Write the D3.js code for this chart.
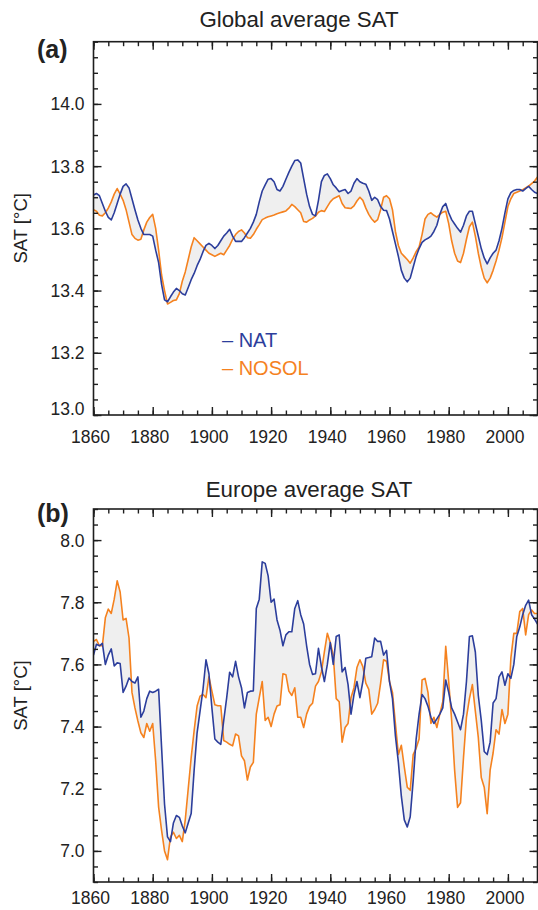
<!DOCTYPE html>
<html><head><meta charset="utf-8">
<script src="https://cdn.jsdelivr.net/npm/d3@7"></script>
<style>
body{margin:0;background:#fff}
svg{display:block}
text{font-family:"Liberation Sans",Arial,Helvetica,sans-serif;fill:#222}
</style>
</head><body>
<svg id="chart" width="538" height="910"></svg>
<script>
const firstYear = 1860, lastYear = 2010;
const years = d3.range(firstYear, lastYear + 1);

const globalNAT = [
13.707,13.712,13.705,13.68,13.655,13.635,13.627,13.65,13.68,13.71,
13.735,13.743,13.73,13.695,13.66,13.627,13.6,13.58,13.58,13.58,
13.575,13.53,13.49,13.42,13.37,13.364,13.38,13.395,13.407,13.4,
13.39,13.386,13.41,13.435,13.455,13.48,13.5,13.525,13.545,13.552,
13.545,13.535,13.545,13.56,13.575,13.585,13.597,13.575,13.558,13.558,
13.558,13.57,13.585,13.6,13.62,13.645,13.685,13.72,13.74,13.758,
13.76,13.75,13.725,13.72,13.735,13.758,13.78,13.8,13.818,13.82,
13.81,13.76,13.71,13.67,13.645,13.64,13.69,13.75,13.77,13.775,
13.76,13.74,13.73,13.718,13.722,13.725,13.712,13.72,13.745,13.76,
13.75,13.745,13.742,13.72,13.69,13.70,13.692,13.67,13.658,13.657,
13.63,13.59,13.55,13.51,13.465,13.44,13.428,13.44,13.475,13.51,
13.535,13.555,13.563,13.568,13.575,13.59,13.61,13.645,13.67,13.68,
13.65,13.628,13.614,13.6,13.588,13.61,13.64,13.655,13.655,13.615,
13.575,13.535,13.505,13.486,13.505,13.52,13.53,13.56,13.6,13.65,
13.695,13.715,13.722,13.725,13.725,13.72,13.728,13.735,13.725,13.716,
13.712];

const globalNOSOL = [
13.66,13.655,13.642,13.64,13.65,13.665,13.685,13.71,13.728,13.71,
13.69,13.66,13.62,13.58,13.568,13.562,13.565,13.595,13.62,13.635,
13.645,13.6,13.53,13.45,13.4,13.357,13.362,13.368,13.37,13.39,
13.43,13.46,13.5,13.54,13.57,13.56,13.55,13.54,13.53,13.52,
13.515,13.51,13.515,13.52,13.515,13.53,13.545,13.565,13.58,13.59,
13.595,13.585,13.57,13.568,13.58,13.597,13.612,13.628,13.633,13.637,
13.64,13.643,13.647,13.65,13.653,13.656,13.665,13.677,13.67,13.66,
13.65,13.622,13.62,13.627,13.632,13.64,13.652,13.657,13.654,13.67,
13.685,13.695,13.7,13.705,13.68,13.666,13.665,13.664,13.672,13.688,
13.7,13.69,13.665,13.645,13.63,13.62,13.628,13.66,13.70,13.705,
13.695,13.66,13.59,13.545,13.52,13.51,13.5,13.488,13.505,13.525,
13.54,13.58,13.63,13.645,13.65,13.642,13.636,13.645,13.652,13.655,
13.615,13.56,13.52,13.495,13.49,13.52,13.565,13.605,13.62,13.575,
13.52,13.475,13.44,13.425,13.44,13.465,13.495,13.53,13.57,13.62,
13.67,13.695,13.712,13.716,13.72,13.724,13.73,13.736,13.744,13.752,
13.765];

const europeNAT = [
7.63,7.665,7.66,7.668,7.60,7.63,7.65,7.595,7.605,7.603,
7.51,7.53,7.556,7.545,7.54,7.56,7.43,7.45,7.49,7.514,
7.51,7.514,7.52,7.333,7.15,7.045,7.03,7.09,7.114,7.108,
7.08,7.058,7.09,7.12,7.26,7.38,7.45,7.52,7.615,7.57,
7.46,7.36,7.35,7.343,7.42,7.493,7.575,7.56,7.61,7.56,
7.525,7.46,7.51,7.514,7.515,7.78,7.81,7.93,7.925,7.885,
7.80,7.81,7.743,7.71,7.66,7.695,7.705,7.705,7.78,7.805,
7.76,7.73,7.66,7.6,7.568,7.57,7.652,7.593,7.545,7.6,
7.67,7.6,7.69,7.695,7.576,7.59,7.535,7.44,7.503,7.545,
7.493,7.545,7.62,7.622,7.625,7.685,7.674,7.674,7.63,7.645,
7.545,7.49,7.37,7.285,7.176,7.1,7.077,7.11,7.226,7.36,
7.44,7.503,7.49,7.465,7.43,7.41,7.425,7.44,7.46,7.55,
7.51,7.46,7.44,7.415,7.39,7.44,7.545,7.69,7.692,7.64,
7.5,7.42,7.32,7.31,7.35,7.476,7.49,7.56,7.576,7.533,
7.57,7.555,7.6,7.69,7.72,7.76,7.79,7.807,7.76,7.746,
7.73];

const europeNOSOL = [
7.674,7.68,7.66,7.66,7.75,7.778,7.764,7.81,7.869,7.833,
7.743,7.748,7.685,7.51,7.46,7.418,7.38,7.365,7.41,7.385,
7.41,7.29,7.141,7.066,7.0,6.972,7.045,7.06,7.04,7.05,
7.03,7.1,7.2,7.3,7.387,7.466,7.498,7.503,7.493,7.56,
7.514,7.47,7.467,7.467,7.355,7.35,7.343,7.338,7.376,7.37,
7.306,7.29,7.228,7.27,7.285,7.44,7.493,7.545,7.42,7.43,
7.40,7.44,7.466,7.47,7.57,7.567,7.514,7.5,7.525,7.43,
7.43,7.397,7.44,7.465,7.475,7.53,7.545,7.576,7.64,7.70,
7.67,7.63,7.49,7.48,7.35,7.397,7.41,7.493,7.525,7.59,
7.615,7.593,7.54,7.52,7.44,7.455,7.475,7.54,7.615,7.61,
7.545,7.51,7.41,7.31,7.34,7.27,7.205,7.195,7.31,7.33,
7.36,7.55,7.555,7.51,7.41,7.43,7.397,7.44,7.48,7.658,
7.545,7.42,7.26,7.14,7.155,7.3,7.43,7.49,7.535,7.45,
7.365,7.236,7.205,7.12,7.26,7.315,7.39,7.376,7.455,7.41,
7.44,7.62,7.70,7.70,7.77,7.78,7.695,7.76,7.775,7.764,
7.764];

const xMajorTicks = [1860,1880,1900,1920,1940,1960,1980,2000];
const globalTicks = [13.0,13.2,13.4,13.6,13.8,14.0];
const europeTicks = [7.0,7.2,7.4,7.6,7.8,8.0];
const seriesNames = ["NAT","NOSOL"];
const titles = ["Global average SAT","Europe average SAT"];
const panelLabels = ["(a)","(b)"];
const yAxisLabel = "SAT [°C]";

const colNAT = "#2c3e9c", colNOSOL = "#f5821f", colFill = "#efefef", colAxis = "#1e1e1e";
const svg = d3.select("#chart");
const left = 93.5, right = 537.5;

const panels = [
  {title:titles[0], label:panelLabels[0], top:41.7, bottom:415, domain:[13.0,14.2], ticks:globalTicks, nat:globalNAT, nosol:globalNOSOL, titleX:299, titleY:27, labelY:58, xLabelDy:28, legend:true},
  {title:titles[1], label:panelLabels[1], top:509, bottom:882, domain:[6.9,8.1], ticks:europeTicks, nat:europeNAT, nosol:europeNOSOL, titleX:309, titleY:497, labelY:522, xLabelDy:21.5, legend:false}
];

const x = d3.scaleLinear().domain([firstYear, lastYear]).range([left, right]);
const xMinor = d3.range(firstYear, lastYear + 1, 5);

panels.forEach((p, pi) => {
  const y = d3.scaleLinear().domain(p.domain).range([p.bottom, p.top]);
  const g = svg.append("g");
  const clipId = "clip" + pi;
  svg.append("clipPath").attr("id", clipId).append("rect")
    .attr("x", left).attr("y", p.top).attr("width", right - left).attr("height", p.bottom - p.top);

  const data = years.map((yr, i) => ({yr, a: p.nat[i], b: p.nosol[i]}));
  const plot = g.append("g").attr("clip-path", `url(#${clipId})`);
  plot.append("path").datum(data)
    .attr("d", d3.area().x(d => x(d.yr)).y0(d => y(d.a)).y1(d => y(d.b)))
    .attr("fill", colFill);
  plot.append("path").datum(data)
    .attr("d", d3.line().x(d => x(d.yr)).y(d => y(d.b)))
    .attr("fill", "none").attr("stroke", colNOSOL).attr("stroke-width", 1.6).attr("stroke-linejoin", "round");
  plot.append("path").datum(data)
    .attr("d", d3.line().x(d => x(d.yr)).y(d => y(d.a)))
    .attr("fill", "none").attr("stroke", colNAT).attr("stroke-width", 1.6).attr("stroke-linejoin", "round");

  const yMinor = d3.range(Math.round(p.domain[0] * 20), Math.round(p.domain[1] * 20) + 1).map(v => v / 20);
  const styleAxis = sel => { sel.select(".domain").remove(); sel.selectAll("line").attr("stroke", colAxis).attr("stroke-width", 1.4); };

  g.append("g").attr("transform", `translate(0,${p.bottom})`)
    .call(d3.axisBottom(x).tickValues(xMinor).tickSize(-4.5).tickFormat("")).call(styleAxis);
  g.append("g").attr("transform", `translate(0,${p.top})`)
    .call(d3.axisTop(x).tickValues(xMinor).tickSize(-4.5).tickFormat("")).call(styleAxis);
  const xb = g.append("g").attr("transform", `translate(0,${p.bottom})`)
    .call(d3.axisBottom(x).tickValues(xMajorTicks).tickSize(-8).tickPadding(0).tickFormat(d3.format("d"))).call(styleAxis);
  xb.selectAll("text").attr("font-size", "17.5px").attr("dy", null).attr("y", p.xLabelDy).attr("x", -3.5)
    .attr("font-family", '"Liberation Sans",Arial,sans-serif').attr("fill", "#222");
  g.append("g").attr("transform", `translate(0,${p.top})`)
    .call(d3.axisTop(x).tickValues(xMajorTicks).tickSize(-8).tickFormat("")).call(styleAxis);

  g.append("g").attr("transform", `translate(${left},0)`)
    .call(d3.axisLeft(y).tickValues(yMinor).tickSize(-4.5).tickFormat("")).call(styleAxis);
  g.append("g").attr("transform", `translate(${right},0)`)
    .call(d3.axisRight(y).tickValues(yMinor).tickSize(-4.5).tickFormat("")).call(styleAxis);
  const yl = g.append("g").attr("transform", `translate(${left},0)`)
    .call(d3.axisLeft(y).tickValues(p.ticks).tickSize(-8).tickPadding(9).tickFormat(d3.format(".1f"))).call(styleAxis);
  yl.selectAll("text").attr("font-size", "17.5px").attr("font-family", '"Liberation Sans",Arial,sans-serif').attr("fill", "#222")
    .attr("dy", d => Math.abs(d - p.domain[0]) < 1e-9 ? "-0.03em" : "0.34em");
  g.append("g").attr("transform", `translate(${right},0)`)
    .call(d3.axisRight(y).tickValues(p.ticks).tickSize(-8).tickFormat("")).call(styleAxis);

  g.append("rect").attr("x", left).attr("y", p.top).attr("width", right - left).attr("height", p.bottom - p.top)
    .attr("fill", "none").attr("stroke", colAxis).attr("stroke-width", 1.6);

  svg.append("text").attr("x", p.titleX).attr("y", p.titleY).attr("text-anchor", "middle")
    .attr("font-size", "22.3px").text(p.title);
  svg.append("text").attr("x", 37).attr("y", p.labelY).attr("font-size", "25px").attr("font-weight", "bold").text(p.label);
  svg.append("text").attr("transform", `translate(26.5,${(p.top + p.bottom) / 2}) rotate(-90)`)
    .attr("text-anchor", "middle").attr("font-size", "18.5px").text(yAxisLabel);

  if (p.legend) {
    const lg = svg.append("g");
    [colNAT, colNOSOL].forEach((c, i) => {
      lg.append("text").attr("x", 222).attr("y", 346.5 + i * 28.5).attr("font-size", "20px")
        .style("fill", c).text("\u2013 " + seriesNames[i]);
    });
  }
});
</script>
</body></html>
